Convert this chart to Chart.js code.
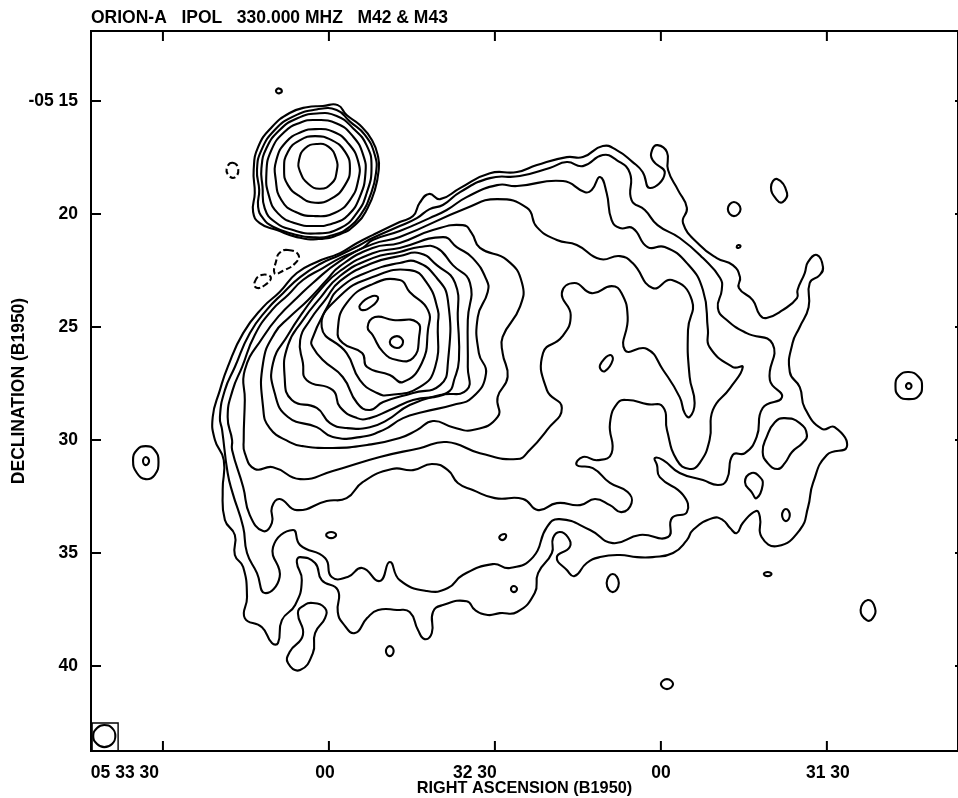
<!DOCTYPE html>
<html lang="en">
<head>
  <meta charset="UTF-8" />
  <title>ORION-A IPOL 330.000 MHZ M42 & M43</title>
  <script src="https://cdn.jsdelivr.net/npm/chart.js"></script>
  <style>
    html, body { margin: 0; background: #fff; }
    canvas { display: block; }
  </style>
</head>
<body>
  <canvas id="contourChart" width="958" height="798"></canvas>

  <script>
    // every contour is [RA seconds west of 05 33 30, Dec arcmin south of -05 00]
    const xTickValues = [0, 30, 60, 90, 120];
    const xTickLabels = ["05 33 30", "00", "32 30", "00", "31 30"];
    const yTickValues = [15, 20, 25, 30, 35, 40];
    const yTickLabels = ["-05 15", "20", "25", "30", "35", "40"];

    // M43, from outside in
    const m43a = [[31.6,15.18],[33.2,15.62],[35.6,16.06],[37.8,16.73],[38.9,17.48],[39.0,18.05],[38.3,18.94],[37.0,19.73],[35.1,20.40],[32.0,20.89],[27.8,21.11],[24.2,21.02],[20.6,20.71],[17.5,20.40],[16.3,19.91],[16.6,19.07],[16.4,18.05],[17.2,17.04],[19.7,16.15],[22.9,15.53],[26.0,15.27],[28.9,15.22]];
    const m43b = [[27.8,15.37],[31.4,15.40],[33.8,15.91],[36.5,16.50],[38.3,17.39],[38.5,18.20],[37.4,19.23],[35.9,19.97],[33.8,20.56],[30.8,20.93],[27.2,21.03],[23.5,20.88],[19.9,20.56],[18.1,20.19],[17.2,19.68],[17.4,18.94],[17.0,18.05],[17.8,17.17],[20.2,16.28],[23.5,15.69]];
    const m43c = [[27.8,15.55],[31.4,15.66],[34.4,16.21],[36.8,16.95],[37.7,17.91],[36.8,19.09],[35.0,19.97],[32.0,20.63],[27.5,20.86],[23.5,20.71],[20.2,20.34],[18.4,19.75],[18.0,18.79],[17.8,17.98],[18.7,17.09],[21.1,16.28],[24.2,15.77]];
    const m43d = [[27.5,15.84],[31.4,15.99],[34.4,16.58],[36.2,17.39],[36.6,18.20],[35.6,19.23],[33.5,20.04],[30.8,20.41],[27.5,20.53],[23.9,20.41],[20.8,19.97],[19.2,19.23],[18.7,18.20],[19.6,17.17],[22.0,16.36],[24.8,15.96]];
    const m43e = [[27.5,16.24],[30.8,16.36],[33.5,16.87],[35.3,17.68],[35.3,18.50],[33.8,19.38],[31.1,19.94],[27.5,20.09],[23.9,19.90],[21.4,19.38],[20.4,18.50],[20.5,17.61],[22.3,16.80],[25.1,16.36]];
    const m43f = [[27.5,16.55],[30.5,16.73],[32.9,17.24],[33.8,17.98],[32.9,18.72],[30.5,19.31],[27.5,19.50],[24.8,19.23],[22.6,18.72],[21.9,18.05],[22.6,17.24],[24.8,16.73]];
    const m43g = [[27.8,16.90],[29.9,17.02],[31.3,17.54],[31.4,18.13],[30.5,18.64],[28.4,18.88],[26.3,18.67],[24.8,18.13],[24.6,17.61],[25.7,17.09]];

    // M42, from outside in
    const m42a = [[9.0,28.98],[10.3,27.79],[11.7,26.77],[14.5,25.27],[18.1,24.12],[21.1,23.45],[24.2,22.61],[27.8,22.12],[32.0,21.73],[35.1,21.28],[37.9,20.93],[42.8,20.35],[45.2,20.09],[46.4,19.51],[48.1,19.11],[50.1,19.34],[53.7,18.85],[59.1,18.19],[64.0,18.14],[67.6,17.83],[73.0,17.48],[75.9,17.48],[79.5,16.99],[82.0,17.17],[84.9,17.70],[86.7,18.14],[88.0,18.85],[90.7,18.19],[88.5,17.61],[88.4,17.17],[89.4,16.95],[91.1,17.26],[91.3,18.05],[93.1,18.94],[94.7,19.73],[94.0,20.40],[97.0,21.37],[100.1,21.95],[103.0,22.26],[104.3,22.79],[104.1,23.27],[106.6,23.81],[107.9,24.47],[109.1,24.60],[112.0,24.25],[114.6,23.72],[114.7,23.36],[116.0,22.61],[116.6,22.12],[118.2,21.81],[119.3,22.35],[118.7,22.70],[116.9,23.05],[116.7,24.12],[115.1,25.0],[113.8,25.71],[113.3,26.99],[115.1,27.66],[116.0,28.58],[119.1,29.51],[121.4,29.43],[123.6,30.31],[120.0,30.66],[117.5,31.90],[116.6,32.97],[115.1,33.98],[111.1,34.69],[108.2,34.29],[107.9,33.41],[107.2,33.14],[104.8,33.67],[103.7,34.12],[102.5,33.89],[101.2,33.54],[99.4,33.45],[95.8,33.98],[94.7,34.43],[92.2,35.0],[88.5,35.18],[85.7,35.18],[82.6,35.09],[79.0,35.18],[76.6,35.44],[74.4,36.02],[73.0,35.75],[71.2,35.18],[73.5,34.74],[73.2,34.30],[71.7,34.07],[70.5,34.34],[70.3,35.0],[67.8,35.89],[67.2,36.77],[64.0,37.61],[60.9,37.66],[58.7,37.74],[56.4,37.52],[54.9,37.13],[50.6,37.30],[48.8,37.61],[48.6,38.54],[47.3,38.81],[46.1,38.41],[44.6,37.61],[42.3,37.52],[38.9,37.52],[36.9,37.88],[34.7,38.54],[32.5,38.10],[31.6,37.61],[31.6,36.64],[28.7,36.20],[27.5,35.44],[24.8,35.18],[24.2,35.40],[25.1,36.20],[23.9,37.30],[21.5,37.97],[20.8,38.98],[19.7,38.98],[17.9,38.28],[14.8,37.88],[15.2,36.95],[14.5,35.62],[13.0,35.09],[13.0,34.20],[11.2,33.54],[10.8,32.21],[11.0,30.89],[9.4,30.0]];
    const m42b = [[10.3,28.98],[11.2,27.79],[13.0,26.77],[15.7,25.27],[18.8,24.23],[21.7,23.50],[24.8,22.79],[28.4,22.21],[32.0,21.81],[35.6,21.37],[37.9,21.06],[42.8,20.53],[45.9,20.18],[48.2,19.78],[50.6,19.60],[53.7,19.03],[59.1,18.41],[64.5,18.32],[69.9,17.96],[73.0,17.70],[75.9,17.88],[79.5,17.39],[82.0,17.61],[84.4,18.19],[84.7,19.38],[87.1,19.82],[89.4,20.49],[93.4,21.06],[97.6,21.95],[100.7,22.83],[101.0,23.36],[100.3,24.16],[101.9,24.69],[105.5,25.27],[110.2,25.75],[109.7,27.35],[111.9,28.10],[108.4,28.58],[107.3,29.87],[105.2,30.58],[103.0,30.66],[101.9,31.77],[100.3,31.99],[97.6,31.77],[93.4,31.46],[90.4,30.89],[88.9,30.80],[89.3,31.11],[89.8,31.64],[94.0,32.43],[94.7,33.19],[92.0,33.45],[91.3,34.29],[86.2,34.20],[81.3,34.56],[77.2,33.98],[71.7,33.50],[69.4,33.85],[66.9,35.18],[62.7,35.66],[59.6,35.49],[54.2,35.97],[51.5,36.55],[47.7,36.68],[42.8,36.20],[41.0,35.40],[39.2,36.24],[36.0,35.66],[33.4,36.06],[30.5,36.06],[29.3,35.22],[24.8,34.65],[23.5,33.98],[19.9,34.74],[21.1,36.06],[18.4,36.77],[17.0,35.89],[15.2,35.0],[14.5,33.85],[12.6,32.35],[11.7,31.46],[10.7,29.56]];
    const m42c = [[11.7,28.98],[12.6,27.79],[14.3,26.77],[16.6,25.35],[19.7,24.25],[22.6,23.58],[25.3,22.92],[28.9,22.39],[32.0,21.95],[36.1,21.50],[37.9,21.15],[42.8,20.75],[48.2,20.18],[51.3,19.82],[54.9,19.25],[60.4,18.72],[64.0,18.76],[72.3,18.54],[76.3,19.03],[77.5,18.94],[79.0,18.36],[80.2,19.07],[81.1,20.27],[82.6,20.62],[84.9,20.62],[87.6,21.46],[90.7,21.46],[94.7,22.17],[97.6,23.36],[98.5,25.13],[98.8,25.89],[103.0,26.77],[104.8,26.77],[102.5,27.70],[99.4,28.67],[98.8,30.0],[97.0,31.02],[95.2,31.28],[92.9,30.89],[91.1,29.56],[90.4,28.54],[87.5,28.41],[84.0,28.23],[82.2,28.36],[80.8,29.25],[81.1,30.58],[78.6,30.89],[75.9,30.75],[74.8,31.11],[77.7,31.24],[80.8,31.90],[84.0,32.30],[84.7,32.79],[82.9,33.19],[80.8,32.88],[78.1,32.61],[75.4,32.88],[71.2,32.79],[67.8,33.10],[65.1,32.61],[60.0,32.57],[56.0,32.21],[53.3,31.90],[51.5,31.33],[48.6,31.06],[45.2,31.33],[41.4,31.28],[36.1,31.86],[33.2,32.57],[29.6,32.70],[24.2,33.10],[21.1,32.61],[19.7,32.97],[19.7,33.67],[18.1,34.03],[15.7,33.32],[14.5,32.08],[12.5,30.44],[12.5,30.0]];
    const m42d = [[14.6,30.0],[14.8,28.23],[14.8,26.90],[18.1,25.44],[21.1,24.47],[24.2,23.72],[27.1,23.05],[32.0,22.08],[37.9,21.33],[42.8,21.02],[54.9,19.73],[60.4,19.34],[65.8,19.73],[67.6,20.58],[71.2,21.15],[74.8,21.37],[79.0,21.99],[82.6,21.86],[84.9,22.17],[88.5,23.27],[92.0,22.92],[95.6,23.81],[94.9,25.13],[95.2,27.21],[96.1,28.36],[95.2,28.98],[94.3,28.81],[93.4,28.10],[90.4,26.90],[87.5,25.97],[83.5,26.02],[84.0,24.56],[82.9,23.50],[81.1,23.19],[77.5,23.50],[74.4,23.05],[72.1,23.50],[73.7,24.47],[72.1,25.44],[68.7,26.15],[69.4,27.79],[72.1,28.58],[69.4,29.56],[66.3,30.44],[64.0,30.84],[57.3,30.58],[51.3,30.09],[46.4,30.36],[39.2,30.75],[30.7,31.37],[24.8,31.73],[19.9,31.20],[16.6,31.28],[14.8,30.58]];
    const m42e = [[18.1,26.59],[18.1,28.54],[19.3,29.47],[22.9,30.09],[25.3,30.27],[30.7,30.35],[36.9,30.22],[42.8,29.91],[45.9,29.56],[48.8,29.16],[52.4,29.43],[56.0,29.56],[60.5,28.98],[60.5,28.10],[62.3,27.21],[61.4,26.15],[61.4,25.44],[64.5,24.12],[64.9,23.05],[62.2,22.04],[57.3,21.50],[55.8,20.84],[54.2,20.49],[48.8,20.71],[42.8,21.28],[37.9,21.50],[32.0,22.30],[29.6,22.92],[26.2,23.81],[22.9,24.56],[20.2,25.27]];
    const m42f = [[19.9,26.59],[20.2,27.92],[22.6,28.98],[27.8,29.43],[30.7,29.87],[35.6,29.87],[39.8,29.56],[43.4,29.03],[47.0,28.76],[52.4,28.45],[56.0,28.10],[58.4,27.04],[57.1,26.15],[56.9,24.56],[58.7,23.45],[58.5,22.92],[56.0,21.95],[53.1,21.46],[50.6,21.02],[42.8,21.50],[37.9,21.73],[32.0,22.52],[28.4,23.36],[25.3,24.34],[22.6,25.35]];
    const m42g = [[22.0,27.21],[22.6,25.80],[25.3,24.69],[28.4,23.72],[32.0,22.74],[37.9,21.95],[42.8,21.68],[46.4,21.46],[49.5,21.50],[52.4,22.26],[55.5,23.05],[55.1,24.69],[55.1,26.77],[54.9,27.79],[50.1,28.01],[44.6,28.45],[40.5,29.12],[37.4,29.43],[33.2,29.47],[30.2,29.25],[27.8,28.58],[23.3,28.23]];
    const m42h = [[25.3,26.59],[26.0,27.35],[30.7,27.79],[32.0,28.54],[35.1,29.03],[37.4,29.03],[41.0,28.67],[45.2,28.23],[51.3,27.92],[52.8,27.21],[53.5,26.46],[53.3,24.69],[52.8,23.05],[49.5,22.26],[46.4,21.73],[42.8,21.86],[37.9,22.17],[32.0,22.97],[29.3,23.81],[26.6,24.69],[24.8,25.58]];
    const m42j = [[26.9,25.58],[27.1,25.89],[28.9,26.46],[32.5,27.21],[35.1,28.36],[37.4,28.67],[39.8,28.32],[45.2,27.92],[50.1,27.57],[51.5,26.59],[51.5,23.81],[49.5,22.83],[45.9,22.12],[42.8,22.17],[37.9,22.48],[32.0,23.27],[29.6,24.16]];
    const m42k = [[28.7,25.0],[33.2,26.15],[35.6,27.35],[38.7,27.92],[41.0,28.01],[46.4,27.66],[49.2,26.77],[49.7,24.82],[49.7,24.25],[47.7,23.05],[44.6,22.48],[37.9,22.79],[32.0,23.63]];
    const m42l = [[42.8,22.92],[44.6,23.45],[47.9,24.25],[47.9,25.13],[46.8,26.59],[43.4,27.43],[41.0,27.12],[36.9,26.77],[36.0,26.15],[32.5,25.71],[31.6,25.13],[33.2,23.94],[37.9,23.10]];
    const m42m = [[38.3,24.56],[41.6,24.69],[45.9,24.78],[46.3,25.44],[45.2,26.37],[42.3,26.46],[39.8,26.11],[37.9,25.35],[37.0,25.0]];
    const m42n = [[42.3,25.40],[43.4,25.66],[42.3,25.93],[41.0,25.66]];
    const m42oval = [[35.6,24.03],[37.9,23.63],[38.9,23.72],[37.8,24.07],[36.0,24.25]];

    // islands and holes
    const southIsland = [[27.1,37.21],[29.3,37.44],[29.3,37.88],[27.5,38.54],[27.1,39.43],[24.8,40.18],[22.6,39.87],[22.9,39.38],[25.3,38.63],[24.4,37.66],[25.3,37.35]];
    const holeMid = [[80.8,26.24],[81.3,26.46],[79.9,26.95],[79.0,26.82],[79.3,26.55]];
    const holeEast = [[112.4,29.03],[115.1,29.25],[116.4,29.78],[115.6,30.13],[113.7,30.53],[112.4,31.02],[111.1,31.28],[109.3,31.02],[108.4,30.53],[109.1,29.87],[110.6,29.21]];
    const holeEast2 = [[106.4,31.46],[107.9,31.64],[108.4,31.99],[107.3,32.57],[106.4,32.30],[105.2,31.86]];
    const holeEast3 = [[112.6,33.05],[113.3,33.32],[112.6,33.59],[111.9,33.32]];
    const spotNorth = [[20.5,14.5],[21.0,14.44],[21.5,14.56],[21.0,14.66],[20.5,14.6]];
    const spotNe1 = [[103.2,19.47],[104.4,19.78],[103.2,20.09],[102.1,19.78]];
    const spotNe2 = [[111.0,18.45],[112.8,19.07],[112.0,19.47],[111.0,19.38],[109.9,18.81]];
    const spotNe3 = [[104.0,21.37],[104.4,21.42],[104.0,21.5],[103.7,21.46]];
    const ringEast = [[134.8,26.99],[136.6,27.21],[137.2,27.61],[136.6,28.05],[134.8,28.19],[133.0,28.05],[132.4,27.61],[133.0,27.17]];
    const ringEastInner = [[134.8,27.48],[135.3,27.61],[134.8,27.74],[134.3,27.61]];
    const ringWest = [[-3.1,30.27],[-1.5,30.44],[-0.8,30.97],[-1.5,31.55],[-3.1,31.73],[-4.7,31.46],[-5.4,30.89],[-4.7,30.44]];
    const ringWestInner = [[-3.1,30.75],[-2.5,30.93],[-3.1,31.11],[-3.6,30.93]];
    const spotSe1 = [[127.4,37.08],[128.7,37.43],[128.3,37.88],[127.2,37.97],[126.1,37.52]];
    const spotSe2 = [[108.6,35.93],[109.3,35.84],[110.0,35.93],[109.3,36.02]];
    const spotS1 = [[90.0,40.80],[91.1,40.58],[92.2,40.80],[91.1,41.02]];
    const spotS2 = [[81.3,35.93],[82.4,36.33],[81.3,36.73],[80.2,36.33]];
    const spotS3 = [[63.4,36.46],[64.0,36.59],[63.4,36.73],[62.9,36.59]];
    const spotS4 = [[61.8,34.16],[62.0,34.29],[61.3,34.43],[60.8,34.29]];
    const spotS5 = [[29.5,34.20],[30.4,34.07],[31.3,34.20],[30.4,34.34]];
    const spotS6 = [[41.0,39.12],[41.7,39.34],[41.0,39.56],[40.3,39.34]];

    // negative levels
    const negA = [[12.6,17.73],[13.6,17.98],[13.0,18.38],[11.8,18.27],[11.6,17.93]];
    const negB = [[22.6,21.59],[24.5,21.81],[23.9,22.18],[21.7,22.51],[20.2,22.63],[20.5,22.04],[21.1,21.71]];
    const negC = [[16.6,23.0],[17.8,22.7],[19.5,22.8],[18.4,23.15],[16.9,23.26]];

    // clean beam and its box in the corner
    const beamCircle = [[-10.6,42.61],[-9.2,42.74],[-8.6,43.10],[-9.2,43.45],[-10.6,43.59],[-11.9,43.45],[-12.6,43.10],[-11.9,42.74]];
    const beamBox = [[-12.8,42.52],[-8.1,42.52],[-8.1,43.76],[-12.8,43.76]];

    const solidContours = [
      m43a, m43b, m43c, m43d, m43e, m43f, m43g,
      m42a, m42b, m42c, m42d, m42e, m42f, m42g, m42h, m42j, m42k, m42l, m42m, m42n, m42oval,
      southIsland, holeMid, holeEast, holeEast2, holeEast3,
      spotNorth, spotNe1, spotNe2, spotNe3, ringEast, ringEastInner, ringWest, ringWestInner,
      spotSe1, spotSe2, spotS1, spotS2, spotS3, spotS4, spotS5, spotS6, beamCircle
    ];
    const dashedContours = [negA, negB, negC];

    const ink = "#000";
    const fontFamily = "'Liberation Sans', Arial, sans-serif";
    const labelFont = { family: fontFamily, size: 17.5, weight: "bold" };
    const raTitleFont = { family: fontFamily, size: 16.3, weight: "bold" };
    const xLabelShift = [-38, -4, -20, 0, 1];

    // wrap the ends round so the spline stays smooth where a contour closes;
    // the two extra segments are hidden by contourDataset
    function wrapped(points) {
      const n = points.length;
      return [points[n - 1]].concat(points, [points[0], points[1]]).map(p => ({ x: p[0], y: p[1] }));
    }

    function contourDataset(points, extra) {
      const n = points.length;
      return Object.assign({
        data: wrapped(points),
        showLine: true,
        borderColor: ink,
        borderWidth: 2.1,
        borderCapStyle: "round",
        tension: 0.5,
        pointRadius: 0,
        fill: false,
        segment: {
          borderColor: ctx => (ctx.p0DataIndex === 0 || ctx.p0DataIndex === n + 1) ? "rgba(0,0,0,0)" : undefined
        }
      }, extra);
    }

    const datasets = solidContours.map(c => contourDataset(c, {}))
      .concat(dashedContours.map(c => contourDataset(c, { borderDash: [6, 3], borderCapStyle: "butt" })))
      .concat([contourDataset(beamBox, { tension: 0, borderWidth: 1.4 })]);

    const framePlugin = {
      id: "frame",
      afterDraw(chart) {
        const { ctx, chartArea: a, scales } = chart;
        ctx.save();
        ctx.strokeStyle = ink;
        ctx.lineWidth = 2;
        ctx.strokeRect(a.left, a.top, a.right - a.left, a.bottom - a.top);

        ctx.beginPath();
        scales.x.ticks.forEach(t => {
          const px = scales.x.getPixelForValue(t.value);
          ctx.moveTo(px, a.top); ctx.lineTo(px, a.top + 10);
          ctx.moveTo(px, a.bottom); ctx.lineTo(px, a.bottom - 10);
        });
        scales.y.ticks.forEach(t => {
          const py = scales.y.getPixelForValue(t.value);
          ctx.moveTo(a.left, py); ctx.lineTo(a.left + 10, py);
          ctx.moveTo(a.right, py); ctx.lineTo(a.right - 3, py);
        });
        ctx.stroke();

        // RA labels sit off their ticks in the original plot
        ctx.fillStyle = ink;
        ctx.font = `bold ${labelFont.size}px ${labelFont.family}`;
        ctx.textAlign = "center";
        ctx.textBaseline = "middle";
        xTickValues.forEach((v, i) => {
          ctx.fillText(xTickLabels[i], scales.x.getPixelForValue(v) + xLabelShift[i], a.bottom + 22);
        });
        ctx.restore();
      }
    };

    new Chart(document.getElementById("contourChart"), {
      type: "scatter",
      data: { datasets: datasets },
      plugins: [framePlugin],
      options: {
        responsive: false,
        animation: false,
        layout: { padding: 0 },
        plugins: {
          legend: { display: false },
          tooltip: { enabled: false },
          title: {
            display: true,
            text: "ORION-A   IPOL   330.000 MHZ   M42 & M43",
            align: "start",
            fullSize: false,
            color: ink,
            font: labelFont,
            padding: { top: 8, bottom: 2 }
          }
        },
        scales: {
          x: {
            type: "linear",
            min: -13,
            max: 143.7,
            grid: { display: false },
            border: { display: false },
            ticks: { display: false },
            afterBuildTicks(scale) { scale.ticks = xTickValues.map(v => ({ value: v })); },
            afterFit(scale) { scale.height = 47; },
            title: {
              display: true,
              text: "RIGHT ASCENSION (B1950)",
              color: ink,
              font: raTitleFont,
              padding: { top: 0, bottom: 0 }
            }
          },
          y: {
            type: "linear",
            reverse: true,
            min: 11.9,
            max: 43.76,
            grid: { display: false },
            border: { display: false },
            afterBuildTicks(scale) { scale.ticks = yTickValues.map(v => ({ value: v })); },
            afterFit(scale) { scale.width = 91; },
            ticks: {
              color: ink,
              font: labelFont,
              padding: 5,
              callback: (value) => yTickLabels[yTickValues.indexOf(value)]
            },
            title: {
              display: true,
              text: "DECLINATION (B1950)",
              color: ink,
              font: labelFont,
              padding: { top: 9, bottom: 0 }
            }
          }
        }
      }
    });
  </script>
</body>
</html>
